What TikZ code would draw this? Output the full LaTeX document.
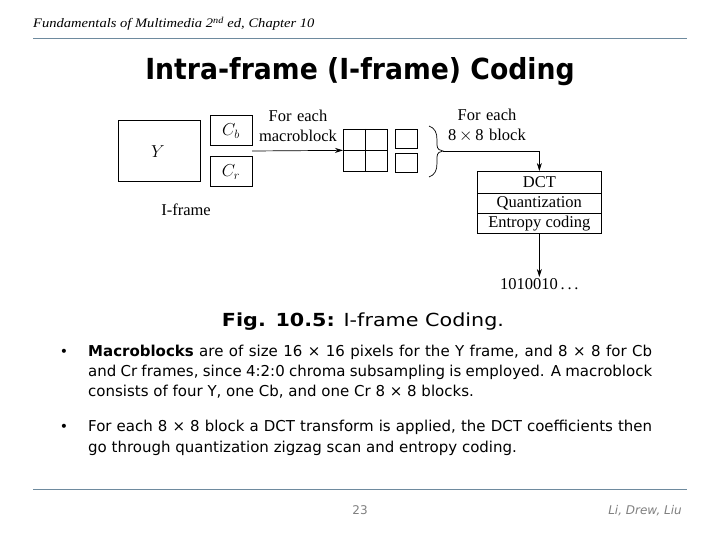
\documentclass[tikz,border=0pt]{standalone}
\usepackage{fontspec}
\setmainfont{Liberation Serif}
\newfontfamily\hdrfont[FakeStretch=1.12]{Liberation Serif}
\newfontfamily\ttlfont[FakeStretch=0.92]{DejaVu Sans}
\newfontfamily\bodyfont[FakeStretch=1.0]{DejaVu Sans}
\newfontfamily\capfont[FakeStretch=1.15]{DejaVu Sans}
\usetikzlibrary{arrows.meta}
\definecolor{rulecol}{RGB}{110,138,158}
\definecolor{footgray}{RGB}{128,128,128}
\tikzset{
  box/.style={draw, line width=0.7pt, inner sep=0pt, anchor=north west},
  lbl/.style={inner sep=0pt, font=\fontsize{16.5}{20}\selectfont, align=center},
  mlbl/.style={inner sep=0pt, font=\fontsize{16.5}{18}\selectfont},
  conn/.style={line width=0.7pt, -{Stealth[length=8pt,width=5pt]}},
  body/.style={anchor=base west, inner sep=0pt, font=\bodyfont\fontsize{15}{20}\selectfont},
}
\begin{document}
\begin{tikzpicture}[x=1pt,y=-1pt]
\useasboundingbox[fill=white] (0,0) rectangle (720,540);
% header
\node[anchor=base west, inner sep=0pt, font=\hdrfont\itshape\fontsize{13}{15}\selectfont] (hdr) at (33,28)
  {Fundamentals of Multimedia 2\textsuperscript{nd} ed, Chapter 10};
\draw[rulecol, line width=1pt] (33,39) -- (687,39);
\node[anchor=base, inner sep=0pt, font=\ttlfont\bfseries\fontsize{29}{32}\selectfont] (title) at (360,80)
  {Intra-frame (I-frame) Coding};
% diagram
\node[box, minimum width=82pt, minimum height=61pt] (Y) at (118,120) {};
\node[mlbl] at (158,152) {$Y$};
\node[box, minimum width=42pt, minimum height=30pt] (Cb) at (210,115) {};
\node[mlbl] at (231,131) {$C_b$};
\node[box, minimum width=42pt, minimum height=30pt] (Cr) at (210,156) {};
\node[mlbl] at (231,172) {$C_r$};
\node[lbl] (iframe) at (186,210) {I-frame};
\node[lbl, text width=110pt] (mbtxt) at (298,126) {For each\\macroblock};
\coordinate (mbout) at (252,151);
\node[box, minimum width=44pt, minimum height=42pt] (grid) at (343,129) {};
\draw[line width=0.7pt] (grid.north) -- (grid.south) (grid.west) -- (grid.east);
\node[box, minimum width=22pt, minimum height=19pt] (sq1) at (395,129) {};
\node[box, minimum width=22pt, minimum height=19pt] (sq2) at (395,153) {};
\draw[conn] (mbout) -- (grid.west);
% brace
\coordinate (bracetip) at (443,151);
\draw[line width=0.7pt] (429,126) .. controls (435,128) and (437,133) .. (437,140) -- (437,145)
  .. controls (437,149) and (440,151) .. (bracetip)
  .. controls (440,151) and (437,153) .. (437,157) -- (437,163)
  .. controls (437,170) and (435,175) .. (429,177);
\node[lbl, text width=110pt] (bltxt) at (487,125) {For each\\8\,$\times$\,8 block};
% stack
\node[box, minimum width=124pt, minimum height=22pt] (dct) at (477,171) {};
\node[lbl] at (dct.center) {DCT};
\node[box, minimum width=124pt, minimum height=20pt] (quant) at (477,193) {};
\node[lbl] at (quant.center) {Quantization};
\node[box, minimum width=124pt, minimum height=20pt] (entropy) at (477,213) {};
\node[lbl] at (entropy.center) {Entropy coding};
\draw[conn] (bracetip) -| (dct.north);
\node[lbl, anchor=north, inner sep=1pt] (bits) at (dct.north |- 0,277) {1010010\,.\,.\,.};
\draw[conn] (entropy.south) -- (bits.north);
% caption
\node[anchor=base, inner sep=0pt, font=\capfont\fontsize{18}{20}\selectfont] (cap) at (363,326)
  {\textbf{Fig. 10.5:} I-frame Coding.};
% bullets
\node[anchor=base, inner sep=0pt, font=\bodyfont\fontsize{14}{20}\selectfont] (b1) at (64,356) {•};
\node[anchor=base, inner sep=0pt, font=\bodyfont\fontsize{14}{20}\selectfont] (b2) at (64,431) {•};
\node[body] (l1) at (88,356) {\makebox[564pt][s]{\textbf{Macroblocks} are of size 16 × 16 pixels for the Y frame, and 8 × 8 for Cb}};
\node[body] (l2) at (88,376) {\makebox[564pt][s]{and Cr frames, since 4:2:0 chroma subsampling is employed. A macroblock}};
\node[body] (l3) at (88,396) {consists of four Y, one Cb, and one Cr 8 × 8 blocks.};
\node[body] (l4) at (88,431) {\makebox[564pt][s]{For each 8 × 8 block a DCT transform is applied, the DCT coefficients then}};
\node[body] (l5) at (88,452) {go through quantization zigzag scan and entropy coding.};
% footer
\draw[rulecol, line width=1pt] (33,489) -- (687,489);
\node[anchor=base, inner sep=0pt, text=footgray, font=\bodyfont\fontsize{12}{14}\selectfont] (pg) at (360,514) {23};
\node[anchor=base east, inner sep=0pt, text=footgray, font=\bodyfont\itshape\fontsize{12}{14}\selectfont] (auth) at (682,514) {Li, Drew, Liu};
\end{tikzpicture}
\end{document}
